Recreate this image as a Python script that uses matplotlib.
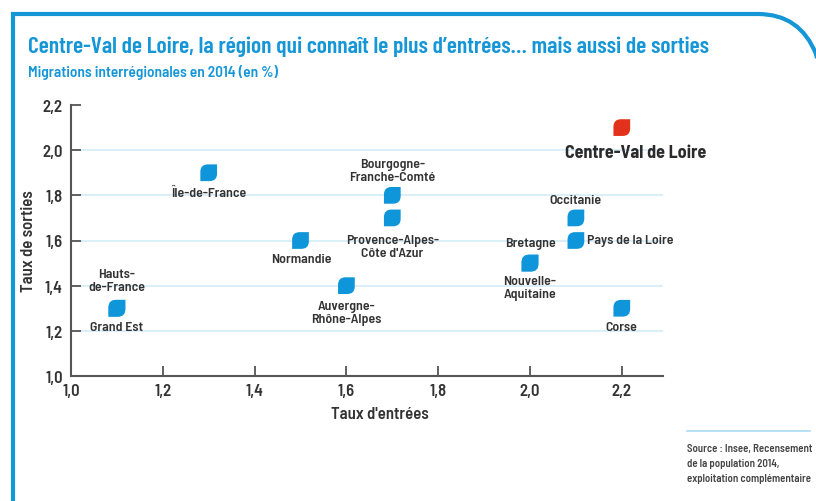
import matplotlib
matplotlib.use("Agg")
import matplotlib.pyplot as plt
from matplotlib.path import Path
from matplotlib.patches import PathPatch
from matplotlib import font_manager as fm

# ---- data ----
regions = ["Île-de-France", "Hauts-\nde-France", "Grand Est", "Normandie",
           "Bourgogne-\nFranche-Comté", "Provence-Alpes-\nCôte d'Azur",
           "Auvergne-\nRhône-Alpes", "Bretagne", "Nouvelle-\nAquitaine",
           "Occitanie", "Pays de la Loire", "Corse", "Centre-Val de Loire"]
entrees = [1.3, 1.1, 1.1, 1.5, 1.7, 1.7, 1.6, 2.0, 2.0, 2.1, 2.1, 2.2, 2.2]
sorties = [1.9, 1.3, 1.3, 1.6, 1.8, 1.7, 1.4, 1.5, 1.5, 1.7, 1.6, 1.3, 2.1]
highlight = "Centre-Val de Loire"
x_ticks = [1.0, 1.2, 1.4, 1.6, 1.8, 2.0, 2.2]
x_tick_labels = ["1,0", "1,2", "1,4", "1,6", "1,8", "2,0", "2,2"]
y_ticks = [1.0, 1.2, 1.4, 1.6, 1.8, 2.0, 2.2]
y_tick_labels = ["1,0", "1,2", "1,4", "1,6", "1,8", "2,0", "2,2"]

# label placement (offset in pixels, alignment)
placement = {
    "Île-de-France": ((0, -20), "center"),
    "Hauts-\nde-France": ((0, 28), "center"),
    "Grand Est": ((0, -19), "center"),
    "Normandie": ((1, -19), "center"),
    "Bourgogne-\nFranche-Comté": ((0, 25), "center"),
    "Provence-Alpes-\nCôte d'Azur": ((0, -29), "center"),
    "Auvergne-\nRhône-Alpes": ((0, -27), "center"),
    "Bretagne": ((0, 20), "center"),
    "Nouvelle-\nAquitaine": ((0, -24), "center"),
    "Occitanie": ((0, 18), "center"),
    "Pays de la Loire": ((11, 0), "left"),
    "Corse": ((0, -19), "center"),
    "Centre-Val de Loire": ((14, -25), "center"),
}

avail = {f.name for f in fm.fontManager.ttflist}
def pick(prefs):
    return next((f for f in prefs if f in avail), "DejaVu Sans")
FONT = pick(["Barlow Semi Condensed", "Saira Semi Condensed", "Roboto Condensed",
             "Fira Sans Condensed", "Archivo Narrow", "PT Sans Narrow"])
TFONT = pick(["Barlow Condensed", "Saira Condensed", "Roboto Condensed",
              "Barlow Semi Condensed", "PT Sans Narrow"])
plt.rcParams["font.family"] = [FONT, "DejaVu Sans"]

BLUE = "#1596d6"
MARK_BLUE = "#0f96da"
RED = "#e3321c"
DARK = "#333333"
W_LBL = "semibold"

fig = plt.figure(figsize=(8.16, 5.02), dpi=100)

# leaf marker
leaf = Path([(-1, -1), (-1, 0.1), (-1, 1), (-0.1, 1), (1, 1), (1, -0.1),
             (1, -1), (0.1, -1), (-1, -1)],
            [Path.MOVETO, Path.LINETO, Path.CURVE3, Path.CURVE3, Path.LINETO,
             Path.LINETO, Path.CURVE3, Path.CURVE3, Path.CLOSEPOLY])

ax = fig.add_axes([71/816, 1-377/502, (663-71)/816, (377-106)/502])
ax.set_xlim(1.0, 1.0 + (663-71)/459)
ax.set_ylim(1.0, 2.2)

colors = [RED if r == highlight else MARK_BLUE for r in regions]
ax.scatter(entrees, sorties, marker=leaf, s=145, c=colors, zorder=3, linewidths=0)

for r, x, y in zip(regions, entrees, sorties):
    (dx, dy), ha = placement[r]
    big = r == highlight
    ax.annotate(r, (x, y), xytext=(dx, dy), textcoords="offset pixels",
                ha=ha, va="center", fontsize=13 if big else 10,
                fontweight="bold" if big else W_LBL,
                color="#2b2b2b" if big else DARK,
                linespacing=1.1, zorder=4)

ax.set_xticks(x_ticks)
ax.set_xticklabels(x_tick_labels)
ax.set_yticks(y_ticks)
ax.set_yticklabels(y_tick_labels)
ax.tick_params(axis="both", direction="in", length=7, width=1.3, color="#555555",
               labelsize=12, labelcolor=DARK)
ax.tick_params(axis="x", pad=5)
ax.tick_params(axis="y", pad=6)
for lab in ax.get_xticklabels() + ax.get_yticklabels():
    lab.set_fontweight(W_LBL)

ax.yaxis.grid(True, color="#d4ecf8", linewidth=1.2)
ax.set_axisbelow(True)
gl = ax.yaxis.get_gridlines()
gl[0].set_visible(False)
gl[-1].set_visible(False)

for s in ["top", "right"]:
    ax.spines[s].set_visible(False)
for s in ["left", "bottom"]:
    ax.spines[s].set_color("#555555")
    ax.spines[s].set_linewidth(1.5)

ax.set_xlabel("Taux d'entrées", fontsize=12, fontweight=W_LBL, color=DARK)
ax.xaxis.set_label_coords((380-71)/(663-71), -30/271)
ax.set_ylabel("Taux de sorties", fontsize=12, fontweight=W_LBL, color=DARK)
ax.yaxis.set_label_coords((36-71)/(663-71), 0.5)

# titles
fig.text(28/816, 1-47/502, "Centre-Val de Loire, la région qui connaît le plus d’entrées… mais aussi de sorties",
         fontsize=17, fontweight="semibold", color=BLUE, va="center", ha="left", family=[TFONT, "DejaVu Sans"])
fig.text(28/816, 1-72/502, "Migrations interrégionales en 2014 (en %)",
         fontsize=11, fontweight="semibold", color=BLUE, va="center", ha="left")

# source
fig.add_artist(plt.Line2D([687/816, 810/816], [1-432/502, 1-432/502],
                          transform=fig.transFigure, color="#a9dcf4", linewidth=1.2))
fig.text(687/816, 1-444/502, "Source : Insee, Recensement\nde la population 2014,\nexploitation complémentaire",
         fontsize=7.8, fontweight=W_LBL, color="#444444", va="top", ha="left", linespacing=1.6)

# frame: left line and top line with rounded top-right corner
W, H = 816, 502
def fx(p): return p / W
def fy(p): return 1 - p / H
frame = Path([(fx(13), fy(502)), (fx(13), fy(15)), (fx(758), fy(15)),
              (fx(800), fy(15)), (fx(816), fy(55)), (fx(822), fy(80))],
             [Path.MOVETO, Path.LINETO, Path.LINETO, Path.CURVE3, Path.CURVE3, Path.LINETO])
fig.add_artist(PathPatch(frame, transform=fig.transFigure, fill=False,
                         edgecolor=BLUE, linewidth=3, clip_on=False))

fig.savefig("out.png", dpi=100)
